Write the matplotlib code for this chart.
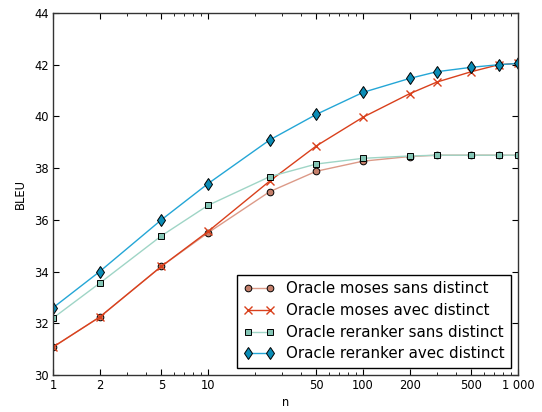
import matplotlib
matplotlib.use("Agg")
import matplotlib.pyplot as plt
from matplotlib.ticker import FixedLocator, FixedFormatter, NullFormatter

n = [1, 2, 5, 10, 25, 50, 100, 200, 300, 500, 750, 1000]
moses_sans = [31.08, 32.24, 34.2, 35.5, 37.09, 37.88, 38.27, 38.45, 38.5, 38.5, 38.5, 38.5]
moses_avec = [31.08, 32.24, 34.2, 35.55, 37.5, 38.86, 39.97, 40.88, 41.33, 41.73, 42.0, 42.05]
reranker_sans = [32.2, 33.55, 35.38, 36.56, 37.67, 38.16, 38.38, 38.47, 38.5, 38.5, 38.5, 38.5]
reranker_avec = [32.6, 34.0, 36.0, 37.4, 39.09, 40.08, 40.93, 41.47, 41.73, 41.9, 42.0, 42.05]

labels = ["Oracle moses sans distinct", "Oracle moses avec distinct",
          "Oracle reranker sans distinct", "Oracle reranker avec distinct"]
xticks = [1, 2, 5, 10, 50, 100, 200, 500, 1000]
xticklabels = ["1", "2", "5", "10", "50", "100", "200", "500", "1 000"]
xminor = [3, 4, 6, 7, 8, 9, 20, 30, 40, 60, 70, 80, 90, 300, 400, 600, 700, 800, 900]
yticks = [30, 32, 34, 36, 38, 40, 42, 44]

plt.rcParams.update({
    "font.family": "DejaVu Sans",
    "font.size": 8.3,
    "xtick.direction": "in", "ytick.direction": "in",
    "xtick.top": True, "ytick.right": True,
    "xtick.major.size": 4, "ytick.major.size": 4,
    "xtick.minor.size": 2, "ytick.minor.size": 2,
    "xtick.major.pad": 3, "ytick.major.pad": 3,
    "axes.linewidth": 1.0,
    "axes.edgecolor": "#333333",
})

fig = plt.figure(figsize=(5.42, 4.12), dpi=100)
ax = fig.add_axes([53/542, 1-375/412, (518-53)/542, (375-13)/412])

ax.plot(n, moses_sans, color="#dc9a88", lw=1, marker="o", ms=4.8,
        mfc="#c47f6b", mec="black", mew=0.7, label=labels[0])
ax.plot(n, moses_avec, color="#d9401c", lw=1, marker="x", ms=5.5,
        mec="#d9401c", mew=1, label=labels[1])
ax.plot(n, reranker_sans, color="#9fd5c6", lw=1, marker="s", ms=4.8,
        mfc="#84c5b5", mec="black", mew=0.7, label=labels[2])
ax.plot(n, reranker_avec, color="#24a6d6", lw=1, marker="d", ms=6,
        mfc="#0a8cb6", mec="black", mew=0.7, label=labels[3])

ax.set_xscale("log")
ax.set_xlim(1, 1000)
ax.set_ylim(30, 44)
ax.xaxis.set_major_locator(FixedLocator(xticks))
ax.xaxis.set_major_formatter(FixedFormatter(xticklabels))
ax.xaxis.set_minor_locator(FixedLocator(xminor))
ax.xaxis.set_minor_formatter(NullFormatter())
ax.set_yticks(yticks)
ax.set_xlabel("n", labelpad=3)
ax.set_ylabel("BLEU", labelpad=5)

leg = ax.legend(loc="lower right", numpoints=2, fancybox=False, framealpha=1,
                edgecolor="black", fontsize=10.8, borderpad=0.45, labelspacing=0.45,
                handlelength=2.05, handletextpad=0.75, borderaxespad=0.45)
leg.get_frame().set_linewidth(1.0)

fig.savefig("out.png", dpi=100)
